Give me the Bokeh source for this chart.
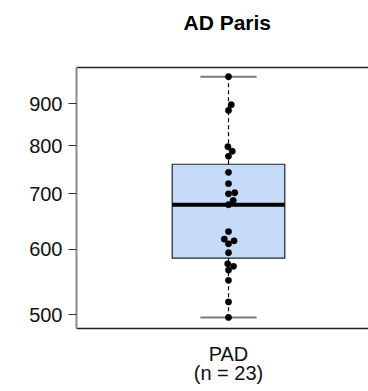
import numpy as np
from bokeh.plotting import figure
from bokeh.models import Range1d, FixedTicker, LinearAxis, NumeralTickFormatter
from bokeh.embed import file_html
from bokeh.resources import INLINE

# ---- data -------------------------------------------------------------
title_text = "AD Paris"
group_label = "PAD"
values = [970, 897, 883, 798, 788, 777, 743, 720, 702, 700, 687, 679,
          630, 617, 614, 609, 594, 576, 572, 566, 550, 518, 496]
y_ticks = [500, 600, 700, 800, 900]

# ---- layout constants ---------------------------------------------------
W, H = 368, 391
LEFT, TOP, BOTTOM = 76, 67, 63
FRAME_W = W - LEFT
FRAME_H = H - TOP - BOTTOM
X0, X1 = 0.46, 1.4974
Y0, Y1 = 481, 995
FONT = "Liberation Sans"
DOT = 6.3

v = np.array(values, dtype=float)
n = len(v)


def fivenum(x):
    """Tukey's five-number summary (min, lower hinge, median, upper hinge, max)."""
    x = np.sort(x)
    m = len(x)
    n4 = np.floor((m + 3) / 2) / 2
    d = np.array([1, n4, (m + 1) / 2, m + 1 - n4, m]) - 1
    return 0.5 * (x[np.floor(d).astype(int)] + x[np.ceil(d).astype(int)])


_, q1, med, q3, _ = fivenum(v)
iqr = q3 - q1
lo_whisk = v[v >= q1 - 1.5 * iqr].min()
hi_whisk = v[v <= q3 + 1.5 * iqr].max()


def swarm(ypix, d):
    """Place points from the lowest value up, each at the smallest free offset."""
    xs = np.zeros(len(ypix))
    placed = []
    for i in np.argsort(-ypix):
        cands = [0.0]
        for j in placed:
            dy = ypix[i] - ypix[j]
            if abs(dy) < d:
                dx = np.sqrt(d * d - dy * dy)
                cands += [xs[j] + dx, xs[j] - dx]
        ok = [c for c in cands
              if all((c - xs[j]) ** 2 + (ypix[i] - ypix[j]) ** 2 >= d * d - 1e-6
                     for j in placed)]
        xs[i] = min(ok, key=abs)
        placed.append(i)
    return xs


# screen-space coordinates used for the swarm layout
px_per_x = FRAME_W / (X1 - X0)
px_per_logy = FRAME_H / (np.log10(Y1) - np.log10(Y0))
ypix = TOP + (np.log10(Y1) - np.log10(v)) * px_per_logy
x_pts = 1 + swarm(ypix, DOT) / px_per_x

# ---- figure -------------------------------------------------------------
p = figure(width=W, height=H, y_axis_type="log",
           x_range=Range1d(X0, X1), y_range=Range1d(Y0, Y1),
           output_backend="svg", toolbar_location=None,
           min_border_left=LEFT, min_border_right=0,
           min_border_top=TOP, min_border_bottom=BOTTOM)
p.outline_line_color = None
p.xgrid.visible = False
p.ygrid.visible = False
p.background_fill_color = "white"
p.border_fill_color = "white"

p.title.text = title_text
p.title.align = "left"
p.title.text_font = FONT
p.title.text_font_size = "21px"
p.title.text_font_style = "bold"
p.title.text_color = "black"
p.title.standoff = 8
p.title.offset = 107

# y axis (log scale)
ya = p.yaxis[0]
ya.ticker = FixedTicker(ticks=y_ticks)
ya.formatter = NumeralTickFormatter(format="0")
ya.axis_line_color = "#8a8a8a"
ya.axis_line_width = 2
ya.major_tick_line_color = "#333333"
ya.major_tick_in = 0
ya.major_tick_out = 8
ya.minor_tick_line_color = None
ya.major_label_text_font = FONT
ya.major_label_text_font_size = "20px"
ya.major_label_text_color = "#111111"
ya.major_label_standoff = 6

# x axis with the group label
xa = p.xaxis[0]
xa.ticker = FixedTicker(ticks=[1])
xa.major_label_overrides = {1: f"{group_label}\n(n = {n})"}
xa.axis_line_color = "#222222"
xa.axis_line_width = 1.5
xa.major_tick_line_color = None
xa.minor_tick_line_color = None
xa.major_label_text_font = FONT
xa.major_label_text_font_size = "20px"
xa.major_label_text_line_height = 0.9
xa.major_label_text_color = "#111111"
xa.major_label_standoff = 8

# top border line, with blank room above it for the title
top = LinearAxis(ticker=FixedTicker(ticks=[]), axis_line_color="#222222",
                 axis_line_width=1.5, major_tick_line_color=None,
                 minor_tick_line_color=None, axis_label=" ",
                 axis_label_text_font_size="1px", axis_label_standoff=26)
p.add_layout(top, "above")

# box
BOX_HALF, CAP_HALF = 0.2, 0.1
p.quad(left=[1 - BOX_HALF], right=[1 + BOX_HALF], bottom=[q1], top=[q3],
       fill_color="#C6DBF8", line_color="#222222", line_width=1.2)
# whiskers
p.segment(x0=[1, 1], y0=[q3, q1], x1=[1, 1], y1=[hi_whisk, lo_whisk],
          line_color="black", line_width=1.2, line_dash="4 3")
p.segment(x0=[1 - CAP_HALF] * 2, y0=[hi_whisk, lo_whisk],
          x1=[1 + CAP_HALF] * 2, y1=[hi_whisk, lo_whisk],
          line_color="#7a7a7a", line_width=2)
# median
p.segment(x0=[1 - BOX_HALF], y0=[med], x1=[1 + BOX_HALF], y1=[med],
          line_color="black", line_width=4)
# individual observations
p.scatter(x=x_pts, y=v, size=DOT, fill_color="black", line_color="black",
          line_width=0.5)

open("out.html", "w").write(file_html(p, INLINE))
